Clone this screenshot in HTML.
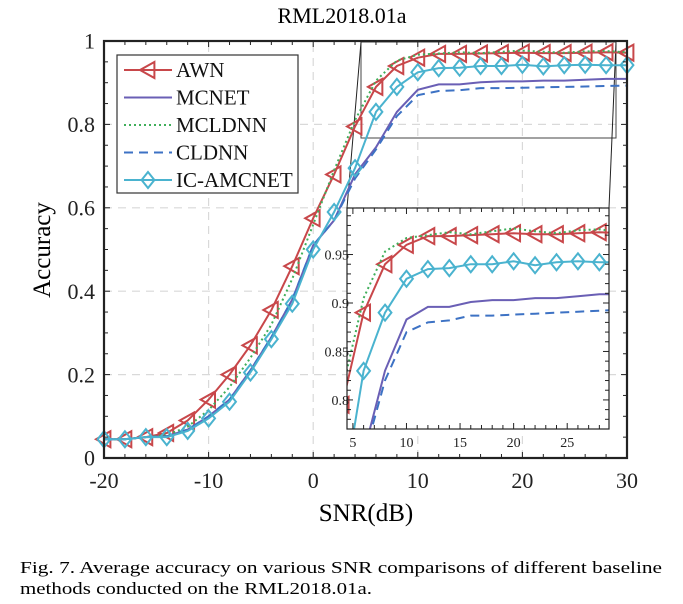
<!DOCTYPE html>
<html><head><meta charset="utf-8"><style>
html,body{margin:0;padding:0;background:#fff;overflow:hidden;width:683px;height:604px;}
svg{display:block;font-family:"Liberation Serif",serif;}
</style></head><body>
<svg id="chart" width="683" height="604" viewBox="0 0 683 604" xmlns="http://www.w3.org/2000/svg">
<text x="342" y="23" font-size="22" text-anchor="middle">RML2018.01a</text>
<g id="main"></g>
<text transform="translate(50,250) rotate(-90)" font-size="25" text-anchor="middle">Accuracy</text>
<text x="366" y="521" font-size="25" text-anchor="middle">SNR(dB)</text>
<text x="20" y="573" font-size="17" textLength="642" lengthAdjust="spacingAndGlyphs">Fig. 7.   Average accuracy on various SNR comparisons of different baseline</text>
<text x="20" y="594" font-size="17" textLength="352" lengthAdjust="spacingAndGlyphs">methods conducted on the RML2018.01a.</text>
</svg>
<script>
const snr = [-20,-18,-16,-14,-12,-10,-8,-6,-4,-2,0,2,4,6,8,10,12,14,16,18,20,22,24,26,28,30];
const awn = [.045,.045,.05,.06,.09,.14,.20,.27,.355,.46,.575,.68,.795,.89,.94,.96,.969,.969,.97,.971,.972,.971,.971,.972,.973,.972];
const mcnet = [.045,.045,.05,.052,.068,.10,.14,.21,.29,.38,.51,.57,.68,.745,.83,.883,.896,.896,.901,.903,.903,.905,.905,.907,.909,.909];
const mcldnn = [.045,.045,.05,.055,.075,.115,.17,.24,.32,.43,.56,.69,.81,.905,.953,.967,.97,.973,.971,.974,.977,.974,.972,.975,.976,.973];
const cldnn = [.045,.045,.05,.052,.068,.10,.14,.21,.29,.38,.51,.57,.67,.74,.82,.87,.88,.882,.887,.887,.888,.889,.89,.891,.892,.893];
const icamc = [.045,.045,.05,.05,.065,.095,.135,.205,.285,.37,.50,.59,.695,.83,.89,.925,.935,.936,.94,.94,.943,.939,.942,.943,.942,.942];
const xTicks = [-20,-10,0,10,20,30];
const yTicks = [0,0.2,0.4,0.6,0.8,1];
const insetXTicks = [5,10,15,20,25];
const insetYTicks = [0.8,0.85,0.9,0.95];
const names = ["AWN","MCNET","MCLDNN","CLDNN","IC-AMCNET"];

const NS="http://www.w3.org/2000/svg";
const svg=document.getElementById('chart');
const main=document.getElementById('main');
function el(t,a,p){const e=document.createElementNS(NS,t);for(const k in a)e.setAttribute(k,a[k]);(p||svg).appendChild(e);return e;}
const M={x0:104,x1:627,y0:458,y1:41,xmin:-20,xmax:30,ymin:0,ymax:1};
const I={x0:347,x1:609,y0:429,y1:208,xmin:4.45,xmax:28.9,ymin:0.77,ymax:0.998};
function sx(A,v){return A.x0+(v-A.xmin)/(A.xmax-A.xmin)*(A.x1-A.x0);}
function sy(A,v){return A.y0-(v-A.ymin)/(A.ymax-A.ymin)*(A.y0-A.y1);}
const styles=[
 {c:"#c8474a",d:"",m:"tri",w:2},
 {c:"#6a5fb5",d:"",m:null,w:2},
 {c:"#3fae5a",d:"2,3",m:null,w:2},
 {c:"#3d72c4",d:"9,6",m:null,w:2},
 {c:"#4ab3cf",d:"",m:"dia",w:2}];
const series=[awn,mcnet,mcldnn,cldnn,icamc];
function marker(g,type,x,y,c,s){
  if(type==="tri"){const e=el('polygon',{points:`${x-s},${y} ${x+s*0.8},${y-s} ${x+s*0.8},${y+s}`,fill:"none",stroke:c,"stroke-width":2},g);
    }
  else{const e=el('polygon',{points:`${x},${y-s} ${x+s*0.8},${y} ${x},${y+s} ${x-s*0.8},${y}`,fill:"none",stroke:c,"stroke-width":2},g);
    }
}
function drawAxes(A,g,xt,yt){
  xt.forEach(v=>{if(v>A.xmin&&v<A.xmax){const l=el('line',{x1:sx(A,v),x2:sx(A,v),y1:A.y0,y2:A.y1,stroke:"#d9d9d9","stroke-width":1.2,"stroke-dasharray":"8,6"},g);}});
  yt.forEach(v=>{if(v>A.ymin&&v<A.ymax){const l=el('line',{x1:A.x0,x2:A.x1,y1:sy(A,v),y2:sy(A,v),stroke:"#d9d9d9","stroke-width":1.2,"stroke-dasharray":"8,6"},g);}});
}
function drawFrame(A,g,xt,yt,fs,minX,minY,w,labelOffY,labelOffX){
  const r=el('rect',{x:A.x0,y:A.y1,width:A.x1-A.x0,height:A.y0-A.y1,fill:"none",stroke:"#222","stroke-width":w},g);
  
  for(let v=Math.ceil(A.xmin/minX)*minX;v<=A.xmax+1e-9;v+=minX){const X=sx(A,v);const major=xt.some(t=>Math.abs(t-v)<1e-9);const L=major?6:4;
    el('line',{x1:X,x2:X,y1:A.y0,y2:A.y0-L,stroke:"#222","stroke-width":1},g);el('line',{x1:X,x2:X,y1:A.y1,y2:A.y1+L,stroke:"#222","stroke-width":1},g);}
  for(let v=Math.ceil(A.ymin/minY-1e-9)*minY;v<=A.ymax+1e-9;v+=minY){const Y=sy(A,v);const major=yt.some(t=>Math.abs(t-v)<1e-9);const L=major?6:4;
    el('line',{x1:A.x0,x2:A.x0+L,y1:Y,y2:Y,stroke:"#222","stroke-width":1},g);el('line',{x1:A.x1,x2:A.x1-L,y1:Y,y2:Y,stroke:"#222","stroke-width":1},g);}
  xt.forEach(v=>{const t=el('text',{x:sx(A,v),y:A.y0+labelOffY,"font-size":fs,"text-anchor":"middle",fill:"#222"},g);t.textContent=String(v);
    });
  yt.forEach(v=>{const t=el('text',{x:A.x0-labelOffX,y:sy(A,v)+fs*0.35,"font-size":fs,"text-anchor":"end",fill:"#222"},g);t.textContent=String(v);
    });
}
function drawSeries(A,g,clip,ms){
  series.forEach((s,i)=>{const st=styles[i];
    const pts=snr.map((x,j)=>`${sx(A,x).toFixed(1)},${sy(A,s[j]).toFixed(1)}`).join(' ');
    const p=el('polyline',{points:pts,fill:"none",stroke:st.c,"stroke-width":st.w,"stroke-dasharray":st.d,"clip-path":clip},g);
    
    if(st.m){const mg=el('g',{"clip-path":clip},g);snr.forEach((x,j)=>{if(x<A.xmin-0.5||x>A.xmax+1.5)return;marker(mg,st.m,sx(A,x),sy(A,s[j]),st.c,ms);});}
  });
}
const defs=el('defs',{});
const cpM=el('clipPath',{id:"cm"},defs);el('rect',{x:M.x0-12,y:M.y1-12,width:M.x1-M.x0+24,height:M.y0-M.y1+12},cpM);
const cpI=el('clipPath',{id:"ci"},defs);el('rect',{x:I.x0,y:I.y1,width:I.x1-I.x0,height:I.y0-I.y1},cpI);

drawAxes(M,main,xTicks,yTicks);
const zr=el('rect',{x:361,y:42,width:255,height:96,fill:"none",stroke:"#444","stroke-width":1},main);

el('line',{x1:361,y1:42,x2:347,y2:208,stroke:"#222","stroke-width":1},main);
el('line',{x1:616,y1:42,x2:609,y2:208,stroke:"#222","stroke-width":1},main);
drawSeries(M,main,"url(#cm)",8);
drawFrame(M,main,xTicks,yTicks,22,2,0.05,2.2,30,9);

const lg=el('g',{},main);
el('rect',{x:117,y:55,width:181,height:138,fill:"#fff",stroke:"#333","stroke-width":1.2},lg);
names.forEach((n,i)=>{const y=70+i*27.5;const st=styles[i];
  const l=el('line',{x1:124,x2:172,y1:y,y2:y,stroke:st.c,"stroke-width":2,"stroke-dasharray":st.d},lg);
  
  if(st.m)marker(lg,st.m,148,y,st.c,8);
  const t=el('text',{x:176,y:y+7,"font-size":21,fill:"#111"},lg);t.textContent=n;
  });

const ig=el('g',{});
el('rect',{x:I.x0,y:I.y1,width:I.x1-I.x0,height:I.y0-I.y1,fill:"#fff"},ig);
drawSeries(I,ig,"url(#ci)",8);
drawFrame(I,ig,insetXTicks,insetYTicks,14,1,0.01,1.2,18,-2);
</script>
</body></html>
